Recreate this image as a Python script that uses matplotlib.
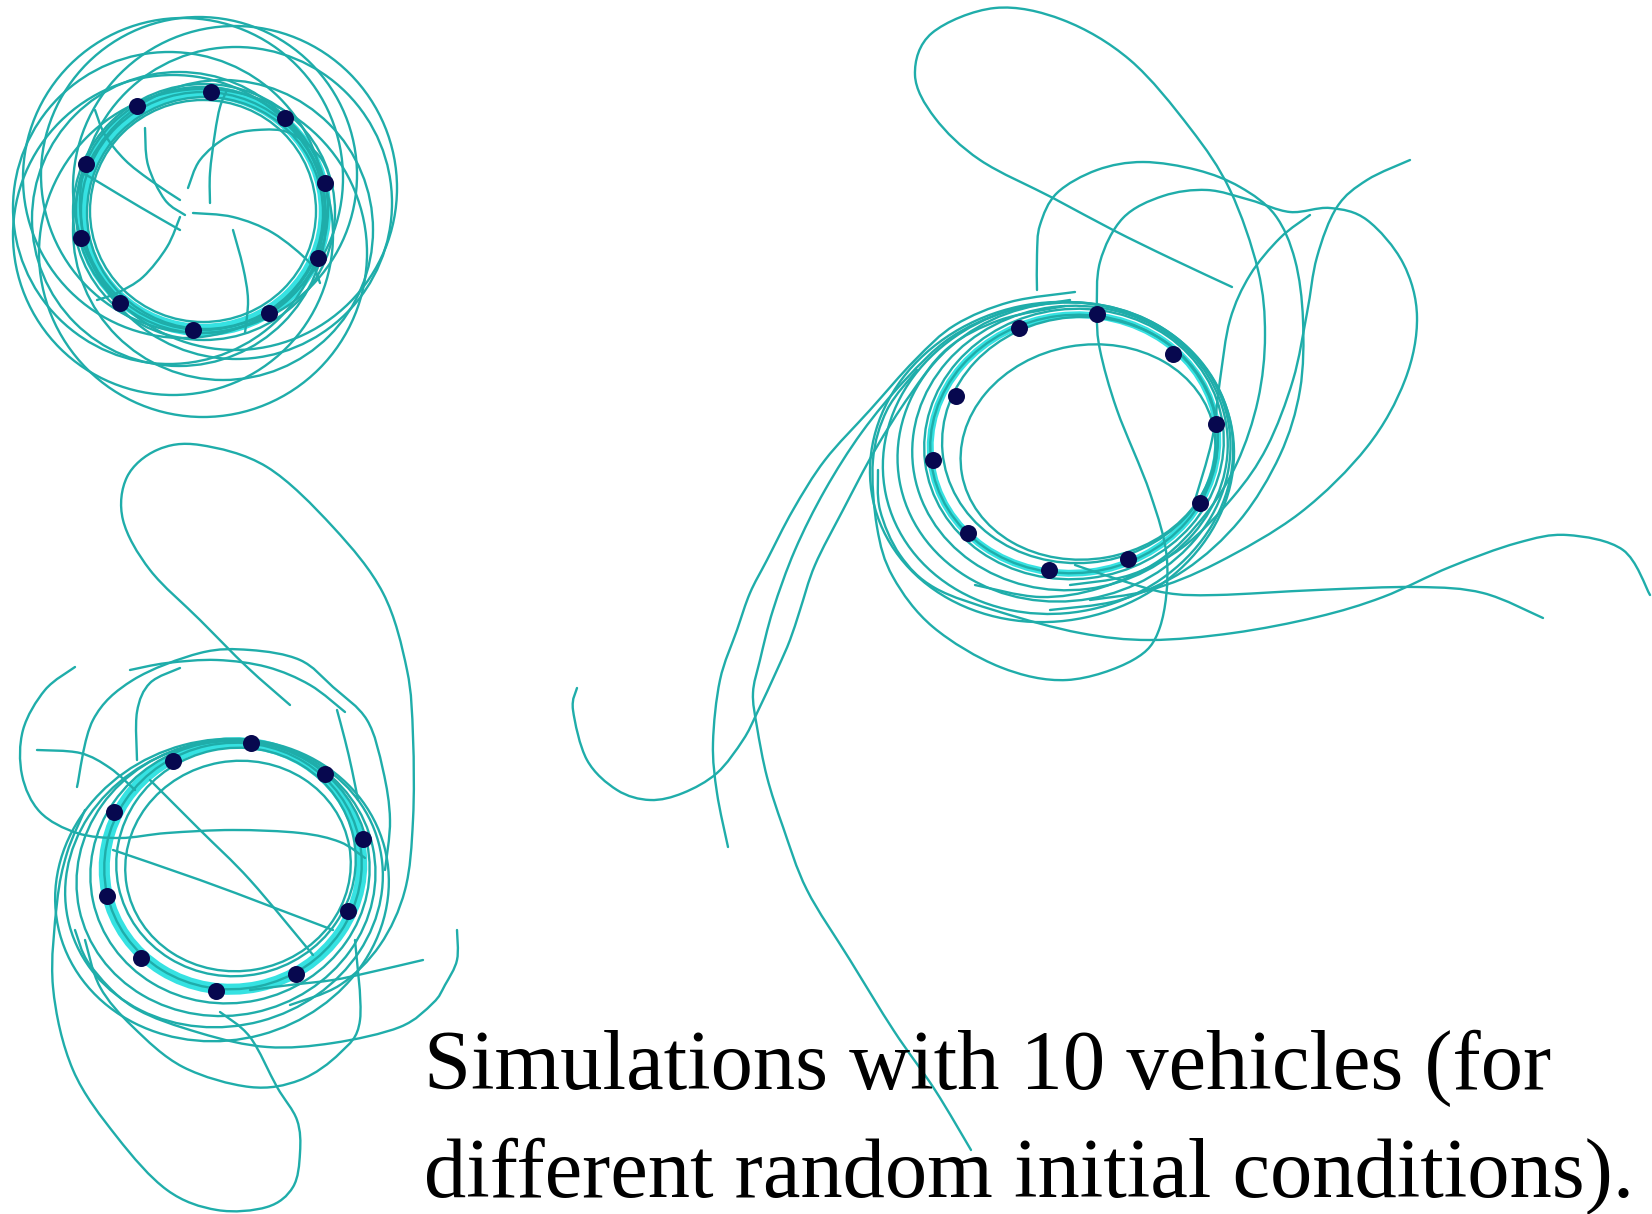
#!/usr/bin/env python3
"""Three runs of 10 vehicles converging onto a circular formation."""
import numpy as np
import matplotlib.pyplot as plt
from matplotlib.path import Path
from matplotlib.patches import PathPatch, Ellipse

W, H = 1652, 1214
TEAL = '#1fadaa'
CYAN = '#36e2e2'
NAVY = '#07084f'

# ---------------- run 1 (top left) ----------------
run1_dots_x = [137, 211, 285, 325, 318, 269, 193, 120, 81, 86]
run1_dots_y = [106, 92, 118, 183, 258, 313, 330, 303, 238, 164]
# formation ring: cx, cy, width, height, angle
run1_ring_cx = [203, 203, 204, 202, 205]
run1_ring_cy = [211, 211, 212, 210, 213]
run1_ring_w = [244, 226, 262, 252, 236]
run1_ring_h = [238, 222, 256, 246, 232]
run1_ring_ang = [0, 0, 0, 0, 0]
# outer loops wrapping the ring
run1_loop_cx = [183, 199, 236, 169, 203, 223, 173, 235, 179]
run1_loop_cy = [178, 175, 203, 208, 253, 230, 235, 188, 219]
run1_loop_r = [160, 158, 156, 156, 164, 150, 160, 162, 147]
# trajectories starting near the centre
run1_paths = [
    [(188, 188), (200, 160), (227, 137), (257, 130), (290, 133), (320, 157), (333, 187)],
    [(210, 203), (210, 173), (215, 133), (220, 107), (227, 90)],
    [(180, 200), (150, 180), (125, 160), (105, 135), (95, 110)],
    [(180, 230), (140, 207), (100, 183), (83, 173)],
    [(180, 217), (167, 247), (143, 277), (117, 293), (97, 300)],
    [(233, 230), (243, 267), (248, 300), (245, 333)],
    [(193, 213), (233, 217), (273, 233), (310, 263), (320, 283)],
    [(145, 128), (148, 165), (165, 200), (185, 215)],
]

# ---------------- run 2 (bottom left) ----------------
run2_dots_x = [173, 251, 325, 363, 348, 296, 216, 141, 107, 114]
run2_dots_y = [761, 743, 774, 839, 911, 974, 991, 958, 896, 812]
run2_ring_cx = [233, 236, 230, 226, 224, 222, 238]
run2_ring_cy = [866, 862, 872, 878, 884, 890, 866]
run2_ring_w = [258, 240, 280, 300, 320, 336, 226]
run2_ring_h = [246, 228, 262, 275, 284, 300, 210]
run2_ring_ang = [-12, -12, -12, -12, -15, -15, -10]
run2_paths = [
    [(290, 705), (247, 667), (200, 620), (150, 570), (123, 520), (127, 477),
     (157, 450), (200, 445), (267, 467), (333, 527), (383, 593), (407, 670),
     (413, 737), (413, 820), (405, 890), (380, 945), (340, 985), (290, 1005)],
    [(75, 667), (45, 690), (23, 730), (22, 775), (40, 812), (77, 833),
     (120, 838), (167, 833), (233, 830), (300, 833), (340, 842), (365, 858)],
    [(37, 750), (80, 753), (110, 768), (135, 790)],
    [(130, 670), (167, 663), (217, 660), (267, 667), (310, 685), (345, 712)],
    [(337, 710), (345, 740), (352, 770), (358, 800)],
    [(457, 930), (457, 960), (445, 985), (433, 1003), (400, 1027), (333, 1043),
     (267, 1047), (200, 1033), (133, 1007), (90, 965), (75, 930)],
    [(423, 960), (367, 973), (333, 980), (290, 985), (250, 990)],
    [(220, 1012), (250, 1037), (277, 1087), (297, 1120), (300, 1153),
     (293, 1187), (267, 1207), (217, 1210), (167, 1190), (117, 1137),
     (73, 1070), (53, 987), (57, 903), (67, 853), (85, 810)],
    [(355, 940), (360, 1020), (340, 1053), (300, 1080), (250, 1087),
     (183, 1067), (133, 1027), (100, 987), (85, 940)],
    [(150, 780), (200, 830), (250, 880), (313, 955)],
    [(113, 850), (200, 880), (267, 905), (333, 930)],
    [(77, 787), (93, 720), (133, 680), (200, 653), (250, 650), (300, 660),
     (333, 687), (367, 720), (383, 770), (390, 820), (385, 870)],
    [(137, 760), (137, 712), (150, 683), (180, 668)],
]

# ---------------- run 3 (right) ----------------
run3_dots_x = [1019, 1097, 1173, 1216, 1200, 1128, 1049, 968, 933, 956]
run3_dots_y = [328, 314, 354, 424, 503, 559, 570, 533, 460, 396]
run3_ring_cx = [1074, 1074, 1070, 1064, 1058, 1052, 1080, 1088]
run3_ring_cy = [444, 444, 448, 452, 458, 462, 440, 452]
run3_ring_w = [288, 300, 316, 334, 352, 366, 276, 256]
run3_ring_h = [258, 270, 284, 298, 310, 318, 246, 214]
run3_ring_ang = [-7, -7, -7, -10, -12, -12, -5, -10]
run3_paths = [
    [(1232, 287), (1170, 258), (1113, 230), (1053, 198), (980, 160),
     (935, 118), (915, 75), (932, 33), (995, 8), (1063, 20), (1130, 60),
     (1190, 128), (1230, 190), (1258, 270), (1265, 335), (1258, 400),
     (1237, 463), (1205, 515), (1160, 560), (1100, 588), (1040, 597), (975, 585)],
    [(1037, 290), (1037, 255), (1040, 225), (1057, 193), (1097, 170),
     (1143, 162), (1197, 170), (1240, 187), (1275, 215), (1295, 260),
     (1303, 320), (1300, 390), (1280, 455), (1240, 520), (1185, 570),
     (1120, 600), (1050, 610)],
    [(917, 370), (887, 410), (873, 460), (877, 527), (893, 577), (933, 627),
     (1000, 667), (1067, 680), (1133, 660), (1160, 627), (1167, 560),
     (1150, 493), (1117, 410), (1100, 350), (1097, 313), (1100, 262),
     (1123, 218), (1163, 196), (1207, 190), (1250, 200), (1290, 212),
     (1330, 208), (1367, 220), (1403, 263), (1417, 317), (1405, 380),
     (1367, 447), (1300, 513), (1217, 563), (1150, 590), (1090, 600)],
    [(1410, 160), (1367, 180), (1337, 207), (1317, 257), (1307, 313),
     (1293, 380), (1267, 447), (1233, 497), (1183, 547), (1130, 575), (1070, 585)],
    [(1195, 500), (1212, 440), (1220, 380), (1230, 320), (1250, 275),
     (1280, 238), (1310, 215)],
    [(1075, 292), (1010, 302), (955, 325), (915, 360), (870, 410),
     (825, 460), (793, 510), (767, 560), (750, 593), (737, 630), (720, 680),
     (713, 743), (717, 793), (728, 847)],
    [(1070, 300), (1005, 312), (950, 338), (905, 380), (862, 432),
     (825, 490), (795, 550), (773, 610), (760, 660), (753, 693), (757, 727),
     (767, 777), (783, 827), (807, 890), (850, 960), (894, 1031), (935, 1090),
     (971, 1150)],
    [(1065, 306), (1000, 320), (948, 348), (910, 395), (875, 450),
     (843, 510), (815, 565), (800, 610), (790, 640), (777, 670), (757, 713),
     (743, 740), (717, 773), (683, 793), (650, 800), (617, 790), (587, 760),
     (573, 710), (577, 688)],
    [(1650, 595), (1623, 550), (1567, 535), (1517, 543), (1450, 567),
     (1383, 597), (1317, 617), (1233, 633), (1150, 640), (1080, 633),
     (1000, 612), (935, 588), (900, 555), (880, 510), (878, 470)],
    [(1543, 618), (1483, 593), (1417, 587), (1317, 590), (1217, 595),
     (1167, 593), (1120, 580), (1075, 565)],
]

caption_lines = ["Simulations with 10 vehicles (for",
                 "different random initial conditions)."]


def smooth_path(pts):
    # cubic Bezier segments through the waypoints (Catmull-Rom handles)
    p = np.asarray(pts, float)
    n = len(p)
    verts, codes = [p[0]], [Path.MOVETO]
    for i in range(n - 1):
        p0 = p[i - 1] if i > 0 else p[i]
        p3 = p[i + 2] if i + 2 < n else p[i + 1]
        verts += [p[i] + (p[i + 1] - p0) / 6, p[i + 1] - (p3 - p[i]) / 6, p[i + 1]]
        codes += [Path.CURVE4] * 3
    return Path(verts, codes)


def draw_run(ax, dots_x, dots_y, ring_cx, ring_cy, ring_w, ring_h, ring_ang,
             paths, band_lw):
    # bright band along the formation circle
    ax.add_patch(Ellipse((ring_cx[0], ring_cy[0]), ring_w[0], ring_h[0],
                         angle=ring_ang[0], fill=False, ec=CYAN, lw=band_lw, zorder=2))
    for cx, cy, w, h, a in zip(ring_cx, ring_cy, ring_w, ring_h, ring_ang):
        ax.add_patch(Ellipse((cx, cy), w, h, angle=a, fill=False, ec=TEAL,
                             lw=1.7, zorder=3))
    for pts in paths:
        ax.add_patch(PathPatch(smooth_path(pts), fill=False, ec=TEAL, lw=1.7,
                               capstyle='round', zorder=3))
    ax.scatter(dots_x, dots_y, s=150, color=NAVY, zorder=5, linewidths=0)


fig = plt.figure(figsize=(W / 100, H / 100), dpi=100)
ax = fig.add_axes([0, 0, 1, 1])
ax.set_xlim(0, W)
ax.set_ylim(H, 0)
ax.axis('off')

for cx, cy, r in zip(run1_loop_cx, run1_loop_cy, run1_loop_r):
    ax.add_patch(Ellipse((cx, cy), 2 * r, 2 * r, fill=False, ec=TEAL, lw=1.7, zorder=3))

draw_run(ax, run1_dots_x, run1_dots_y, run1_ring_cx, run1_ring_cy, run1_ring_w,
         run1_ring_h, run1_ring_ang, run1_paths, band_lw=9)
draw_run(ax, run2_dots_x, run2_dots_y, run2_ring_cx, run2_ring_cy, run2_ring_w,
         run2_ring_h, run2_ring_ang, run2_paths, band_lw=8)
draw_run(ax, run3_dots_x, run3_dots_y, run3_ring_cx, run3_ring_cy, run3_ring_w,
         run3_ring_h, run3_ring_ang, run3_paths, band_lw=5)

# caption, sized so the second line spans x = 424 .. 1634 px
caption = [ax.text(424, y, line, fontsize=60, family='Liberation Serif',
                   va='baseline', ha='left', color='black')
           for y, line in zip((1089, 1197), caption_lines)]
fig.canvas.draw()
width = caption[1].get_window_extent(fig.canvas.get_renderer()).width
for t in caption:
    t.set_fontsize(60 * 1210 / width)

fig.savefig('out.png', dpi=100, facecolor='white')
